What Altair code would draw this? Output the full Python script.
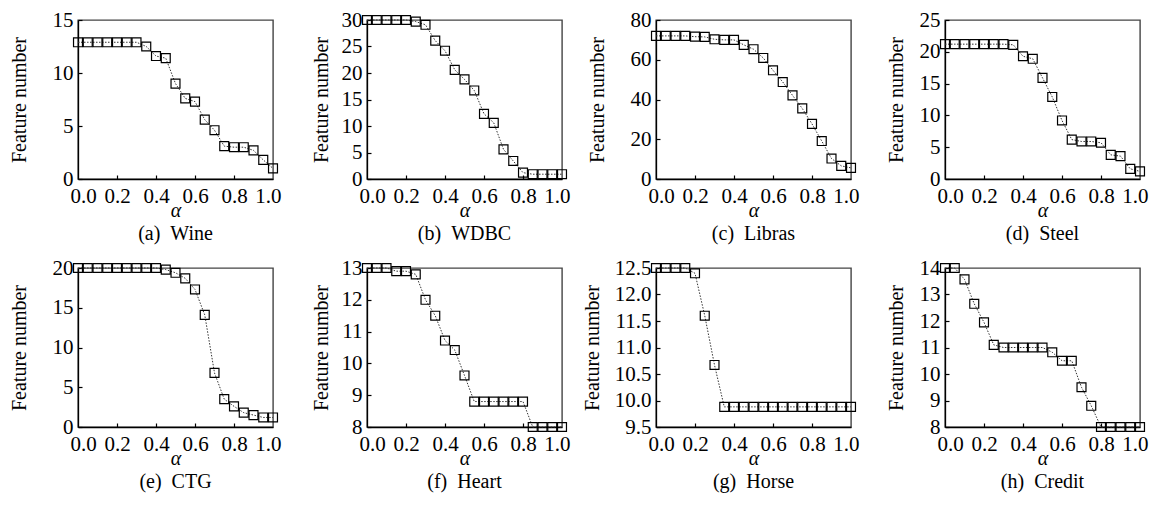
import altair as alt
import pandas as pd

ALPHA = [0.0, 0.05, 0.1, 0.15, 0.2, 0.25, 0.3, 0.35, 0.4, 0.45, 0.5,
         0.55, 0.6, 0.65, 0.7, 0.75, 0.8, 0.85, 0.9, 0.95, 1.0]
X_LABELS = [0.0, 0.2, 0.4, 0.6, 0.8, 1.0]
X_INNER = [0.2, 0.4, 0.6, 0.8]

WINE = [12.9, 12.9, 12.9, 12.9, 12.9, 12.9, 12.9, 12.5, 11.6, 11.4, 9.0,
        7.6, 7.3, 5.6, 4.6, 3.1, 3.0, 3.0, 2.7, 1.8, 1.0]
WDBC = [30.0, 30.0, 30.0, 30.0, 30.0, 29.7, 29.1, 26.1, 24.2, 20.6, 18.8,
        16.7, 12.3, 10.6, 5.6, 3.4, 1.2, 0.9, 0.9, 0.9, 0.9]
LIBRAS = [72.0, 72.0, 72.0, 72.0, 71.6, 71.5, 70.3, 70.0, 70.0, 67.5, 65.3,
          60.9, 54.7, 48.8, 42.1, 35.5, 27.7, 19.1, 10.3, 6.6, 5.6]
STEEL = [21.2, 21.2, 21.2, 21.2, 21.2, 21.2, 21.2, 21.1, 19.3, 18.9, 15.9,
         12.9, 9.2, 6.2, 5.9, 5.9, 5.7, 3.8, 3.6, 1.6, 1.2]
CTG = [20.0, 20.0, 20.0, 20.0, 20.0, 20.0, 20.0, 20.0, 20.0, 19.8, 19.4,
       18.7, 17.3, 14.1, 6.8, 3.5, 2.6, 1.8, 1.5, 1.2, 1.2]
HEART = [13.0, 13.0, 13.0, 12.9, 12.9, 12.8, 12.0, 11.5, 10.72, 10.42, 9.62,
         8.8, 8.8, 8.8, 8.8, 8.8, 8.8, 8.0, 8.0, 8.0, 8.0]
HORSE = [12.5, 12.5, 12.5, 12.5, 12.4, 11.6, 10.67, 9.88, 9.88, 9.88, 9.88,
         9.88, 9.88, 9.88, 9.88, 9.88, 9.88, 9.88, 9.88, 9.88, 9.88]
CREDIT = [14.0, 14.0, 13.57, 12.65, 11.95, 11.1, 11.0, 11.0, 11.0, 11.0, 11.0,
          10.82, 10.5, 10.5, 9.5, 8.8, 8.0, 8.0, 8.0, 8.0, 8.0]

PANELS = [
    ("(a)", "Wine", WINE, [0, 15], [0, 5, 10, 15], "d", -59),
    ("(b)", "WDBC", WDBC, [0, 30], [0, 5, 10, 15, 20, 25, 30], "d", -46),
    ("(c)", "Libras", LIBRAS, [0, 80], [0, 20, 40, 60, 80], "d", -59),
    ("(d)", "Steel", STEEL, [0, 25], [0, 5, 10, 15, 20, 25], "d", -49),
    ("(e)", "CTG", CTG, [0, 20], [0, 5, 10, 15, 20], "d", -59),
    ("(f)", "Heart", HEART, [8, 13], [8, 9, 10, 11, 12, 13], "d", -46),
    ("(g)", "Horse", HORSE, [9.5, 12.5], [9.5, 10.0, 10.5, 11.0, 11.5, 12.0, 12.5], ".1f", -64),
    ("(h)", "Credit", CREDIT, [8, 14], [8, 9, 10, 11, 12, 13, 14], "d", -49),
]

FONT = "Liberation Serif"
W, H = 195, 159


def panel(tag, name, vals, dom, yticks, fmt, tx):
    df = pd.DataFrame({"alpha": ALPHA, "n": vals})
    base = alt.Chart(df)
    xs = alt.Scale(domain=[0, 1], nice=False, zero=False)
    ys = alt.Scale(domain=dom, nice=False, zero=False)
    x_main = alt.X("alpha:Q", scale=xs, axis=alt.Axis(
        values=X_LABELS, format=".1f", title="α", ticks=False, grid=False,
        labelFlush=True, labelFlushOffset=8, labelOverlap=False,
        labelPadding=6, titleFontStyle="italic", titleY=37,
        titleBaseline="alphabetic", titleFontWeight="normal"))
    y_main = alt.Y("n:Q", scale=ys, axis=alt.Axis(
        values=yticks, format=fmt, title="Feature number", ticks=False,
        grid=False, labelPadding=5, labelFlush=False, labelOverlap=False,
        titleX=tx, titleY=H / 2,
        titleBaseline="middle", titleFontWeight="normal"))
    x_in = alt.X("alpha:Q", scale=xs, axis=alt.Axis(
        orient="bottom", values=X_INNER, labels=False, domain=False,
        title=None, grid=False, ticks=True, tickSize=4, offset=-4))
    y_in = alt.Y("n:Q", scale=ys, axis=alt.Axis(
        orient="left", values=yticks, labels=False, domain=False,
        title=None, grid=False, ticks=True, tickSize=4, offset=-4))
    line = base.mark_line(color="#333", strokeWidth=1, strokeDash=[1.5, 1.5],
                          clip=False).encode(x=x_main, y=y_main)
    pts = base.mark_point(shape="square", size=80, filled=False, color="black",
                          strokeWidth=1.2, opacity=1, clip=False).encode(x=x_in, y=y_in)
    return alt.layer(line, pts).resolve_axis(x="independent", y="independent").properties(
        width=W, height=H,
        title=alt.TitleParams(text=f"{tag}\u00a0\u00a0{name}", orient="bottom",
                              font=FONT, fontSize=20, fontWeight="normal",
                              color="black", offset=4))


charts = [panel(*p) for p in PANELS]

chart = alt.concat(*charts, columns=4,
                   spacing=alt.RowColnumber(row=89, column=94),
                   bounds="flush").properties(
    padding={"left": 0, "top": 0, "right": 5, "bottom": 0}
).configure_axis(
    labelFont=FONT, titleFont=FONT, labelFontSize=21, titleFontSize=20,
    labelColor="black", titleColor="black", domainColor="black",
    domainWidth=1.3, tickColor="black", tickWidth=1.2
).configure_view(stroke="#444", strokeWidth=1.4)

chart.save("out.html", embed_options={"renderer": "svg", "actions": False})
